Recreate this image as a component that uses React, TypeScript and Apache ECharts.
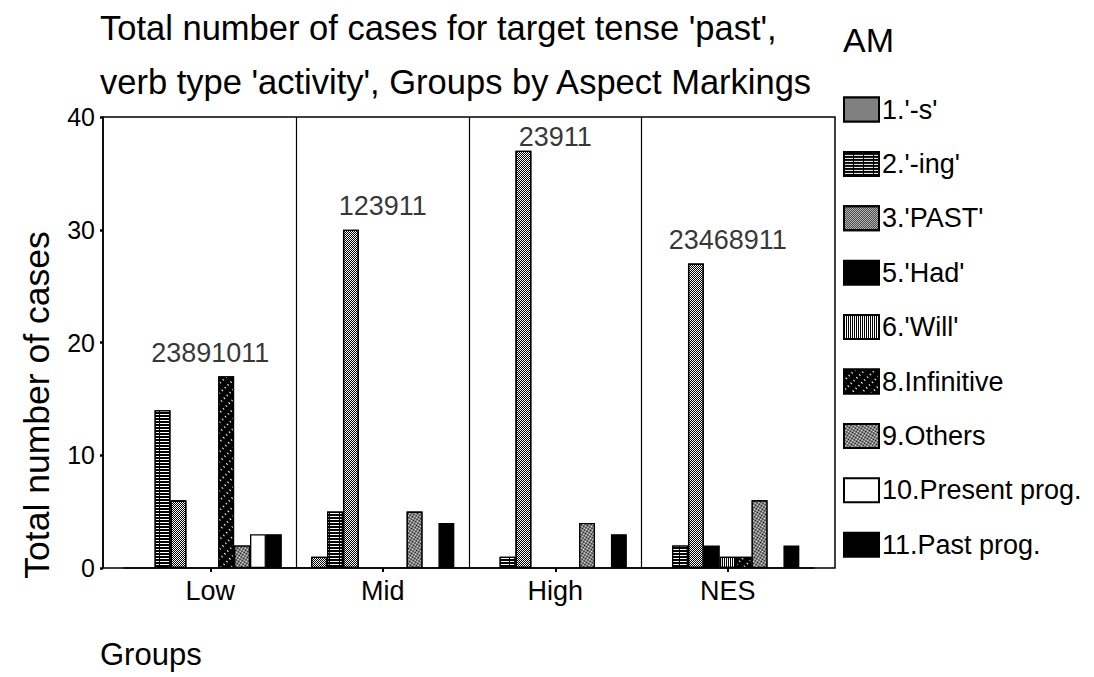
import React, { useEffect, useRef } from "react";
import * as echarts from "echarts";

// ---- data ----
const groups = ["Low", "Mid", "High", "NES"];
const groupLabels = ["23891011", "123911", "23911", "23468911"];
const seriesNames = [
  "1.'-s'",
  "2.'-ing'",
  "3.'PAST'",
  "5.'Had'",
  "6.'Will'",
  "8.Infinitive",
  "9.Others",
  "10.Present prog.",
  "11.Past prog.",
];
const sValues = [null, 1, null, null];
const ingValues = [14, 5, 1, 2];
const pastValues = [6, 30, 37, 27];
const hadValues = [null, null, null, 2];
const willValues = [null, null, null, 1];
const infinitiveValues = [17, null, null, 1];
const othersValues = [2, 5, 4, 6];
const presentProgValues = [3, null, null, null];
const pastProgValues = [3, 4, 3, 2];
const yMin = 0;
const yMax = 40;
const yInterval = 10;

const allValues = [
  sValues,
  ingValues,
  pastValues,
  hadValues,
  willValues,
  infinitiveValues,
  othersValues,
  presentProgValues,
  pastProgValues,
];

const FONT = '"Liberation Sans", Arial, Helvetica, sans-serif';

// fill + texture per series (black & white print look)
const styles: any[] = [
  { color: "#000", decal: { symbol: "rect", symbolSize: 1, color: "#fff", dashArrayX: [[1, 1], [0, 1, 1, 0]], dashArrayY: [1, 0] } },
  { color: "#000", decal: { symbol: "rect", symbolSize: 1, color: "#fff", dashArrayX: [[9, 1]], dashArrayY: [1, 2] } },
  { color: "#fff", decal: { symbol: "rect", symbolSize: 1, color: "#000", dashArrayX: [[1, 1], [0, 1, 1, 0]], dashArrayY: [1, 0] } },
  { color: "#000" },
  { color: "#fff", decal: { symbol: "rect", symbolSize: 1, color: "#000", dashArrayX: [1, 1], dashArrayY: [2, 0] } },
  { color: "#000", decal: { symbol: "rect", symbolSize: 1, color: "#fff", dashArrayX: [[2, 5]], dashArrayY: [1, 3], rotation: 0.8 } },
  { color: "#000", decal: { symbol: "rect", symbolSize: 1, color: "#fff", dashArrayX: [[1, 1], [0, 1, 1, 0]], dashArrayY: [1, 0], rotation: 0.5 } },
  { color: "#fff" },
  { color: "#000" },
];

export default function App() {
  const ref = useRef<HTMLDivElement>(null);

  useEffect(() => {
    if (!ref.current) return;
    const chart = echarts.init(ref.current, undefined, { renderer: "svg" });

    const groupMax = groups.map((_, i) =>
      Math.max(...allValues.map((arr) => (arr[i] == null ? 0 : (arr[i] as number))))
    );

    const barSeries = seriesNames.map((name, k) => ({
      name,
      type: "bar",
      xAxisIndex: 1,
      yAxisIndex: 1,
      barGap: "0%",
      barCategoryGap: "17%",
      data: allValues[k].map((v) => (v == null ? "-" : v)),
      itemStyle: {
        color: styles[k].color,
        borderColor: "#000",
        borderWidth: 1.3,
        decal: styles[k].decal,
      },
      emphasis: { disabled: true },
    }));

    const option: any = {
      animation: false,
      backgroundColor: "#fff",
      textStyle: { fontFamily: FONT, color: "#000" },
      title: [
        {
          text: "Total number of cases for target tense 'past',\nverb type 'activity', Groups by Aspect Markings",
          left: 100,
          top: 1,
          padding: 0,
          textStyle: { fontFamily: FONT, fontSize: 34.5, fontWeight: "normal", color: "#000", lineHeight: 54 },
        },
        {
          text: "AM",
          left: 843,
          top: 23,
          padding: 0,
          textStyle: { fontFamily: FONT, fontSize: 34, fontWeight: "normal", color: "#000" },
        },
        {
          text: "Groups",
          left: 100,
          top: 639,
          padding: 0,
          textStyle: { fontFamily: FONT, fontSize: 31, fontWeight: "normal", color: "#000" },
        },
      ],
      graphic: [
        {
          type: "text",
          x: 37,
          y: 405,
          rotation: Math.PI / 2,
          style: {
            text: "Total number of cases",
            font: `35.5px ${FONT}`,
            fill: "#000",
            textAlign: "center",
            textVerticalAlign: "middle",
          },
        },
      ],
      legend: {
        orient: "vertical",
        left: 843,
        top: 96,
        padding: 0,
        itemWidth: 35,
        itemHeight: 24,
        itemGap: 27.4,
        icon: "rect",
        data: seriesNames,
        selectedMode: false,
        textStyle: { fontFamily: FONT, fontSize: 27, color: "#000", padding: [0, 0, 0, -2] },
      },
      grid: [
        { left: 103, right: 1094 - 835, top: 117, bottom: 677 - 568, show: true, borderColor: "#000", borderWidth: 1.5, backgroundColor: "transparent" },
        { left: 124, right: 1094 - 814, top: 117, bottom: 677 - 568 },
      ],
      xAxis: [
        { gridIndex: 0, type: "value", show: false, min: 0, max: 1 },
        {
          gridIndex: 1,
          type: "category",
          data: groups,
          axisLine: { show: true, lineStyle: { color: "#000", width: 1.5 } },
          axisTick: { show: true, alignWithLabel: true, length: 4, lineStyle: { color: "#000", width: 2 } },
          axisLabel: { fontFamily: FONT, fontSize: 27, color: "#000", margin: 9 },
          splitLine: { show: true, showMinLine: false, showMaxLine: false, lineStyle: { color: "#000", width: 1.2 } },
        },
      ],
      yAxis: [
        {
          gridIndex: 0,
          type: "value",
          min: yMin,
          max: yMax,
          interval: yInterval,
          axisLine: { show: true, lineStyle: { color: "#000", width: 1.5 } },
          axisTick: { show: true, length: 3, lineStyle: { color: "#000", width: 2.5 } },
          axisLabel: { fontFamily: FONT, fontSize: 25, color: "#000", margin: 8 },
          splitLine: { show: false },
        },
        { gridIndex: 1, type: "value", min: yMin, max: yMax, interval: yInterval, show: false, splitLine: { show: false } },
      ],
      series: [
        ...barSeries,
        {
          name: "labels",
          type: "scatter",
          xAxisIndex: 1,
          yAxisIndex: 1,
          symbolSize: 0,
          silent: true,
          data: groupMax.map((m, i) => ({
            value: [i, m],
            label: m >= yMax - 5 ? { distance: 0 } : undefined,
          })),
          label: {
            show: true,
            position: "top",
            distance: 10,
            fontFamily: FONT,
            fontSize: 27,
            color: "#000",
            formatter: (p: any) => groupLabels[p.dataIndex],
          },
        },
      ],
    };

    chart.setOption(option);
    return () => chart.dispose();
  }, []);

  return (
    <div
      ref={ref}
      style={{ position: "fixed", left: 0, top: 0, width: 1094, height: 677, background: "#fff" }}
    />
  );
}
